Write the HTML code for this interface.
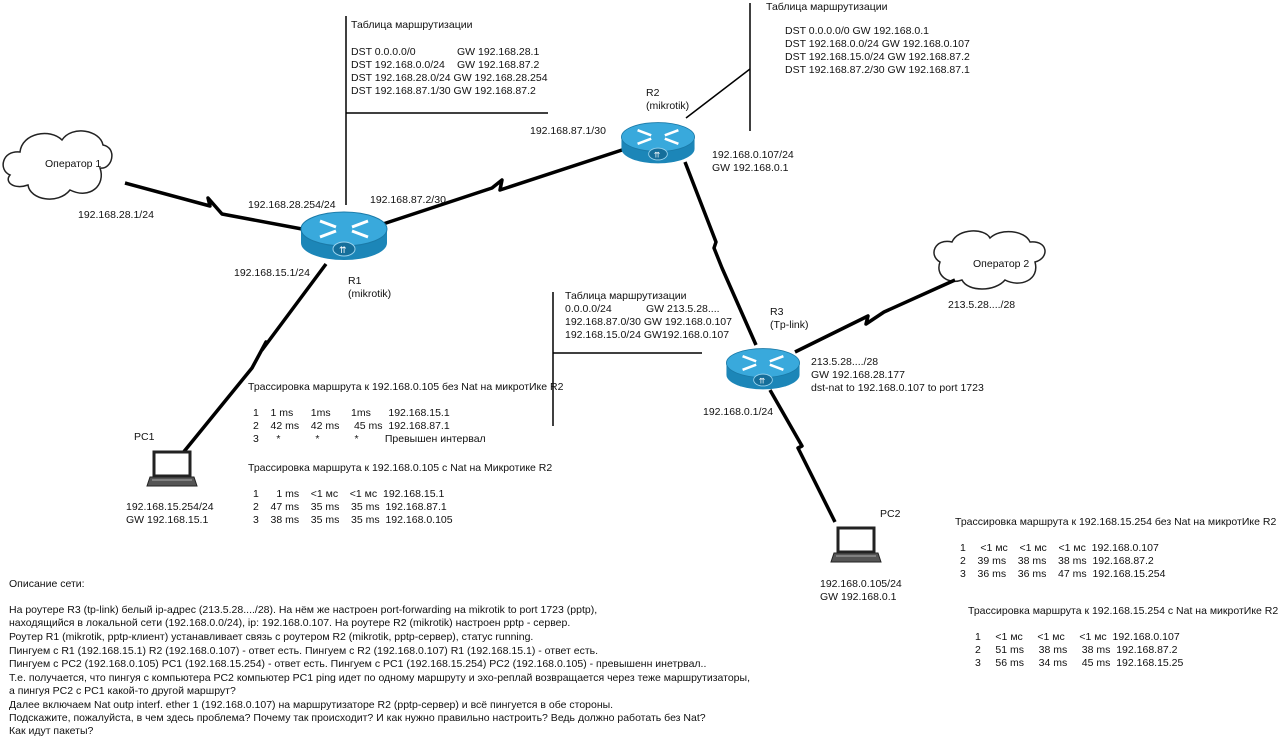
<!DOCTYPE html>
<html><head><meta charset="utf-8"><style>
html,body{margin:0;padding:0;background:#fff;}
svg{display:block;}
text{font-family:"Liberation Sans","DejaVu Sans",sans-serif;font-size:10.5px;fill:#111;}
</style></head><body>
<svg width="1280" height="736" viewBox="0 0 1280 736" xmlns="http://www.w3.org/2000/svg">
<defs>
<g id="router">
  <path d="M-43,0 L-43,14 A43,17 0 0 0 43,14 L43,0 Z" fill="#1c86b8"/>
  <ellipse cx="0" cy="0" rx="43" ry="17" fill="#39a9dc" stroke="#1a7aa8" stroke-width="1"/>
  <g stroke="#fff" stroke-width="3" fill="none">
    <line x1="-24" y1="-8" x2="-8" y2="-2"/><line x1="24" y1="8" x2="8" y2="2"/>
    <line x1="-24" y1="8" x2="-8" y2="2"/><line x1="24" y1="-8" x2="8" y2="-2"/>
  </g>
  <ellipse cx="0" cy="20" rx="11" ry="7" fill="#156e9a" stroke="#9cd4ee" stroke-width="1"/>
  <text x="-5" y="24" style="fill:#fff;font-size:9px">⇈</text>
</g>
<g id="laptop">
  <rect x="6" y="0" width="36" height="24" fill="#fff" stroke="#222" stroke-width="3"/>
  <path d="M2,25 L46,25 L49,34 L-1,34 Z" fill="#555" stroke="#222"/>
  <line x1="4" y1="28" x2="44" y2="28" stroke="#aaa"/>
</g>
</defs>

<path d="M10,175 C-2,170 2,150 20,152 C22,133 50,128 62,140 C72,125 100,130 103,145 C118,148 112,170 100,168 C106,185 90,200 70,190 C58,205 30,200 28,185 C14,190 4,182 10,175 Z" fill="#fff" stroke="#222" stroke-width="1.5"/>
<text x="45" y="167">Оператор 1</text>
<path d="M940,262 C928,255 935,238 952,242 C958,228 985,228 990,238 C1000,228 1025,230 1030,242 C1048,240 1050,258 1035,262 C1040,280 1020,288 1005,280 C995,292 968,292 962,280 C948,285 935,275 940,262 Z" fill="#fff" stroke="#222" stroke-width="1.5"/>
<text x="973" y="267">Оператор 2</text>

<g stroke="#000" stroke-width="3.5" fill="#000" stroke-linejoin="round">
<polyline fill="none" points="125,183 210,206 208,198 222,214 302,229"/>
<polyline fill="none" points="383,224 492,188 502,180 500,190 622,150"/>
<polyline fill="none" points="326,264 262,350 266,342 252,368 182,454"/>
<polyline fill="none" points="685,162 716,242 714,248 722,268 756,345"/>
<polyline fill="none" points="795,352 868,316 866,324 884,312 955,280"/>
<polyline fill="none" points="770,390 802,446 798,448 810,472 835,522"/>
</g>

<g stroke="#000" stroke-width="1.5">
<line x1="346" y1="16" x2="346" y2="205"/><line x1="346" y1="113" x2="548" y2="113"/>
<line x1="750" y1="3" x2="750" y2="131"/><line x1="686" y1="118" x2="750" y2="69"/>
<line x1="553" y1="292" x2="553" y2="426"/><line x1="553" y1="353" x2="702" y2="353"/>
</g>

<use href="#router" x="344" y="229"/>
<use href="#router" x="658" y="137" transform="translate(658 137) scale(0.85) translate(-658 -137)"/>
<use href="#router" x="763" y="363" transform="translate(763 363) scale(0.85) translate(-763 -363)"/>
<use href="#laptop" x="148" y="452"/>
<use href="#laptop" x="832" y="528"/>

<text x="351" y="28">Таблица маршрутизации</text>
<text x="351" y="55">DST 0.0.0.0/0</text><text x="457" y="55">GW  192.168.28.1</text>
<text x="351" y="68">DST 192.168.0.0/24</text><text x="457" y="68">GW  192.168.87.2</text>
<text x="351" y="81">DST 192.168.28.0/24 GW  192.168.28.254</text>
<text x="351" y="94">DST 192.168.87.1/30 GW  192.168.87.2</text>

<text x="530" y="134">192.168.87.1/30</text>
<text x="78" y="218">192.168.28.1/24</text>
<text x="248" y="208">192.168.28.254/24</text>
<text x="370" y="203">192.168.87.2/30</text>
<text x="234" y="276">192.168.15.1/24</text>
<text x="348" y="284">R1</text><text x="348" y="297">(mikrotik)</text>

<text x="646" y="96">R2</text><text x="646" y="109">(mikrotik)</text>
<text x="712" y="158">192.168.0.107/24</text><text x="712" y="171">GW 192.168.0.1</text>

<text x="766" y="10">Таблица маршрутизации</text>
<text x="785" y="34">DST 0.0.0.0/0 GW 192.168.0.1</text>
<text x="785" y="47">DST 192.168.0.0/24 GW 192.168.0.107</text>
<text x="785" y="60">DST 192.168.15.0/24 GW 192.168.87.2</text>
<text x="785" y="73">DST 192.168.87.2/30 GW 192.168.87.1</text>

<text x="565" y="299">Таблица маршрутизации</text>
<text x="565" y="312">0.0.0.0/24</text><text x="646" y="312">GW 213.5.28....</text>
<text x="565" y="325">192.168.87.0/30 GW 192.168.0.107</text>
<text x="565" y="338">192.168.15.0/24 GW192.168.0.107</text>

<text x="770" y="315">R3</text><text x="770" y="328">(Tp-link)</text>
<text x="948" y="308">213.5.28..../28</text>
<text x="811" y="365">213.5.28..../28</text>
<text x="811" y="378">GW 192.168.28.177</text>
<text x="811" y="391">dst-nat to 192.168.0.107 to port 1723</text>
<text x="703" y="415">192.168.0.1/24</text>

<text x="134" y="440">PC1</text>
<text x="126" y="510">192.168.15.254/24</text><text x="126" y="523">GW 192.168.15.1</text>
<text x="880" y="517">PC2</text>
<text x="820" y="587">192.168.0.105/24</text><text x="820" y="600">GW 192.168.0.1</text>

<text x="248" y="390">Трассировка маршрута к 192.168.0.105 без Nat на микротИке R2</text>
<text x="253" y="416" xml:space="preserve">1    1 ms      1ms       1ms      192.168.15.1</text>
<text x="253" y="429" xml:space="preserve">2    42 ms    42 ms     45 ms  192.168.87.1</text>
<text x="253" y="442" xml:space="preserve">3      *            *            *         Превышен интервал</text>
<text x="248" y="471">Трассировка маршрута к 192.168.0.105 с Nat на Микротике R2</text>
<text x="253" y="497" xml:space="preserve">1      1 ms    &lt;1 мс    &lt;1 мс  192.168.15.1</text>
<text x="253" y="510" xml:space="preserve">2    47 ms    35 ms    35 ms  192.168.87.1</text>
<text x="253" y="523" xml:space="preserve">3    38 ms    35 ms    35 ms  192.168.0.105</text>

<text x="955" y="525">Трассировка маршрута к 192.168.15.254 без Nat на микротИке R2</text>
<text x="960" y="551" xml:space="preserve">1     &lt;1 мс    &lt;1 мс    &lt;1 мс  192.168.0.107</text>
<text x="960" y="564" xml:space="preserve">2    39 ms    38 ms    38 ms  192.168.87.2</text>
<text x="960" y="577" xml:space="preserve">3    36 ms    36 ms    47 ms  192.168.15.254</text>
<text x="968" y="614">Трассировка маршрута к 192.168.15.254 с Nat на микротИке R2</text>
<text x="975" y="640" xml:space="preserve">1     &lt;1 мс     &lt;1 мс     &lt;1 мс  192.168.0.107</text>
<text x="975" y="653" xml:space="preserve">2     51 ms     38 ms     38 ms  192.168.87.2</text>
<text x="975" y="666" xml:space="preserve">3     56 ms     34 ms     45 ms  192.168.15.25</text>

<text x="9" y="587">Описание сети:</text>
<text x="9" y="613">На роутере R3 (tp-link) белый ip-адрес (213.5.28..../28). На нём же настроен port-forwarding на mikrotik to port 1723 (pptp),</text>
<text x="9" y="626">находящийся в локальной сети (192.168.0.0/24), ip: 192.168.0.107. На роутере R2 (mikrotik) настроен pptp - сервер.</text>
<text x="9" y="640">Роутер R1 (mikrotik, pptp-клиент) устанавливает связь с роутером R2 (mikrotik, pptp-сервер), статус running.</text>
<text x="9" y="654">Пингуем с R1 (192.168.15.1) R2 (192.168.0.107) - ответ есть. Пингуем с R2 (192.168.0.107) R1 (192.168.15.1) - ответ есть.</text>
<text x="9" y="667">Пингуем с PC2 (192.168.0.105) PC1 (192.168.15.254)  - ответ есть. Пингуем с PC1 (192.168.15.254) PC2 (192.168.0.105) - превышенн инетрвал..</text>
<text x="9" y="681">Т.е. получается, что пингуя с компьютера PC2 компьютер PC1 ping идет по одному маршруту и эхо-реплай возвращается через теже маршрутизаторы,</text>
<text x="9" y="694">а пингуя PC2 с PC1 какой-то другой маршрут?</text>
<text x="9" y="708">Далее включаем Nat outp interf. ether 1 (192.168.0.107) на маршрутизаторе R2 (pptp-сервер) и всё пингуется в обе стороны.</text>
<text x="9" y="721">Подскажите, пожалуйста, в чем здесь проблема? Почему так происходит? И как нужно правильно настроить? Ведь должно работать без Nat?</text>
<text x="9" y="734">Как идут пакеты?</text>
</svg>
</body></html>
